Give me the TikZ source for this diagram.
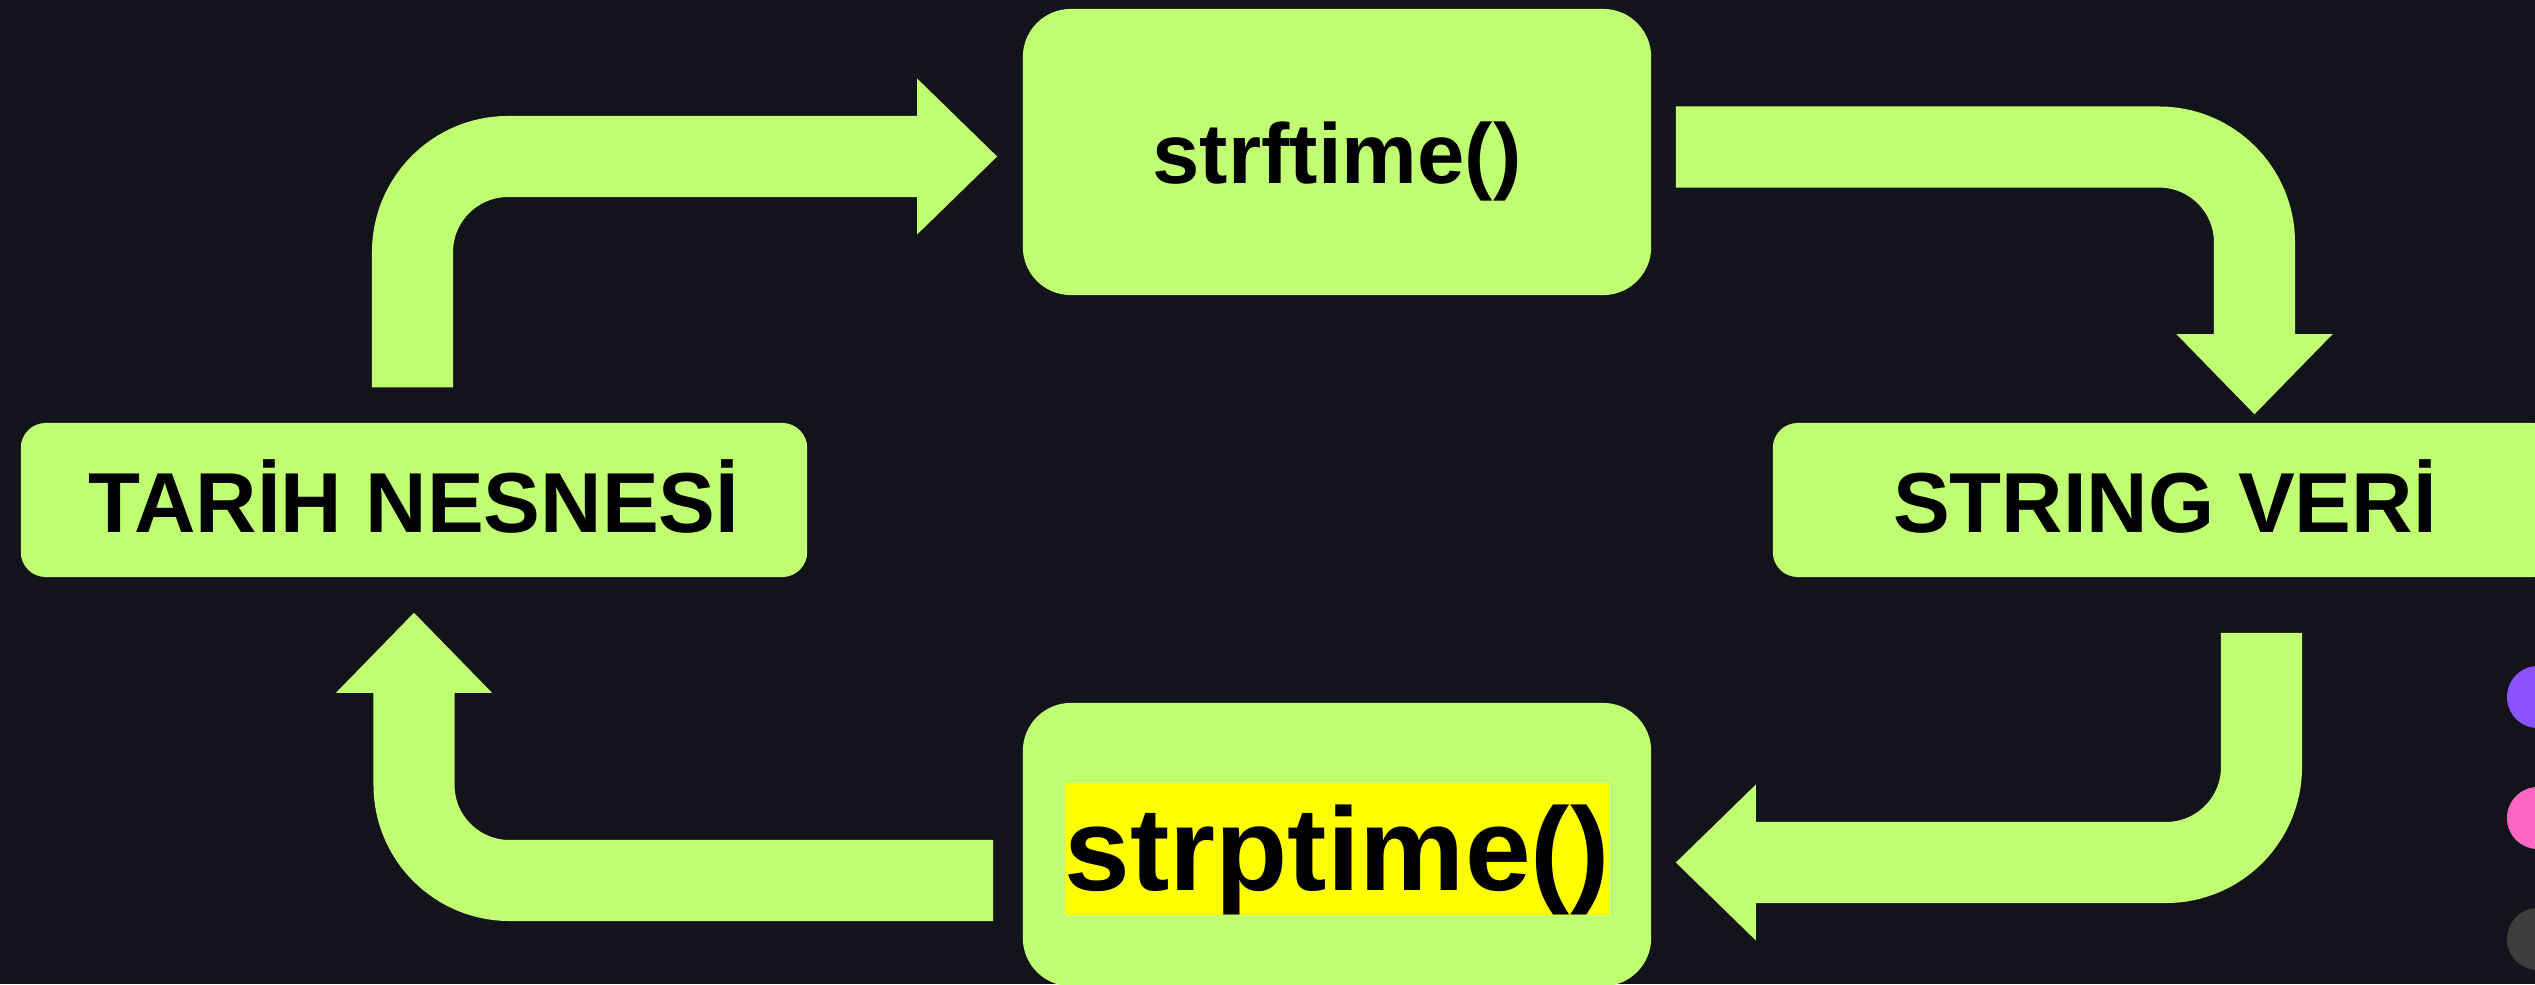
\documentclass[tikz,border=0pt]{standalone}
\usepackage{fontspec}
\setmainfont{Liberation Sans}
\usetikzlibrary{arrows.meta,calc}
\definecolor{bg}{HTML}{13131C}
\definecolor{lime}{HTML}{C1FF72}
\definecolor{hl}{HTML}{FFFF00}
\definecolor{dotpurple}{HTML}{8C52FF}
\definecolor{dotpink}{HTML}{FF66C4}
\definecolor{dotgray}{HTML}{3D3D3D}
\tikzset{
  box/.style={fill=lime, draw=none, inner sep=0pt, text=black,
    font=\fontsize{24.2pt}{29pt}\selectfont\bfseries},
  bigbox/.style={box, rounded corners=0.48cm, minimum width=6.28cm},
  widebox/.style={box, rounded corners=0.25cm, minimum height=1.54cm,
    text height=0.64cm, text depth=0pt},
  flow/.style={line width=0.81cm, draw=lime, rounded corners=0.955cm,
    -{Triangle[width=1.56cm,length=0.8cm,line width=0pt]}},
  dot/.style={circle, fill=#1, draw=none, minimum size=0.62cm, inner sep=0pt}
}
\begin{document}
\begin{tikzpicture}[x=0.01cm,y=-0.01cm]
\useasboundingbox (0,0) rectangle (2535,984);
\clip (0,0) rectangle (2535,984);
\fill[bg] (0,0) rectangle (2535,984);

\node[widebox, minimum width=7.86cm] (tarih) at (414,500) {TARİH NESNESİ};
\node[bigbox, minimum height=2.86cm, text height=0.62cm, text depth=0pt] (strf) at (1337,152) {strftime()};
\node[widebox, minimum width=7.84cm] (strg) at (2165,500) {STRING VERİ};
\node[bigbox, minimum height=2.83cm, text height=1.16cm, text depth=0.25cm,
  font=\fontsize{33.6pt}{40pt}\selectfont\bfseries] (strp) at (1337,844.5)
  {\setlength{\fboxsep}{0pt}\colorbox{hl}{\rule[-0.212em]{0pt}{1.117em}strptime()}};

\coordinate (a1s) at ($(tarih.north)+(-1.5,-35)$);
\coordinate (a1e) at ($(strf.west)+(-25,4.5)$);
\coordinate (a2s) at ($(strf.east)+(24,-5)$);
\coordinate (a2e) at ($(strg.north)+(89.5,-8)$);
\coordinate (a3s) at ($(strg.south)+(96.5,55)$);
\coordinate (a3e) at ($(strp.east)+(24,18)$);
\coordinate (a4s) at ($(strp.west)+(-29,36)$);
\coordinate (a4e) at ($(tarih.south)+(0,35)$);

\draw[flow] (a1s) |- (a1e);
\draw[flow] (a2s) -| (a2e);
\draw[flow] (a3s) |- (a3e);
\draw[flow] (a4s) -| (a4e);

\node[dot=dotpurple] (d1) at (2538,697) {};
\node[dot=dotpink] (d2) at (2538,818) {};
\node[dot=dotgray] (d3) at (2538,939) {};
\end{tikzpicture}
\end{document}
